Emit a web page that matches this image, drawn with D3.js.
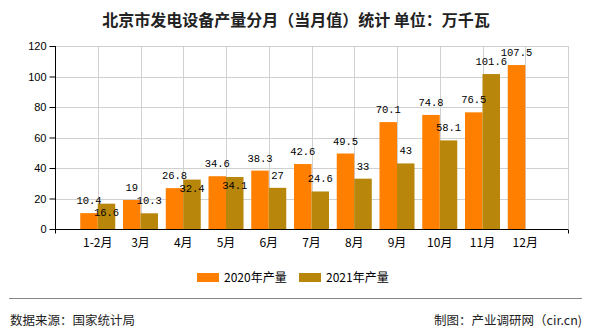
<!DOCTYPE html>
<html>
<head>
<meta charset="utf-8">
<script src="https://cdn.jsdelivr.net/npm/d3@7"></script>
<style>
html,body{margin:0;padding:0;background:#fff;}
svg{display:block;}
</style>
</head>
<body>
<svg id="chart" width="590" height="330"></svg>
<script>
const categories = ["1-2月","3月","4月","5月","6月","7月","8月","9月","10月","11月","12月"];
const seriesNames = ["2020年产量","2021年产量"];
const values2020 = [10.4,19,26.8,34.6,38.3,42.6,49.5,70.1,74.8,76.5,107.5];
const values2021 = [16.6,10.3,32.4,34.1,27,24.6,33,43,58.1,101.6,null];
const yTicks = [0,20,40,60,80,100,120];
const colors = ["#FF8000","#B8860B"];
const titleText = "北京市发电设备产量分月（当月值）统计  单位：万千瓦";
const sourceText = "数据来源：国家统计局";
const creditText = "制图：产业调研网（cir.cn)";

(function () {
const svg = d3.select("#chart");
const pL = 55, pR = 568, pT = 46, pB = 229;

const x = d3.scaleLinear().domain([0, categories.length + 1]).range([pL, pR]);
const y = d3.scaleLinear().domain([0, 120]).range([pB, pT]);
const sub = d3.scaleBand().domain(seriesNames).range([-17.5, 17.5]);

// title
svg.append("text").attr("x", 296).attr("y", 26).attr("text-anchor", "middle")
  .attr("font-family", "'Noto Sans CJK SC', sans-serif").attr("font-size", 16)
  .attr("font-weight", "bold").attr("fill", "#222").text(titleText);

// grid
const grid = svg.append("g");
grid.selectAll("line.h").data(yTicks.filter(t => t > 0)).join("line")
  .attr("x1", pL).attr("x2", pR).attr("y1", d => Math.round(y(d)) + 0.5).attr("y2", d => Math.round(y(d)) + 0.5)
  .attr("stroke", "#d0d0d0");
grid.selectAll("line.v").data(d3.range(1, categories.length + 2)).join("line")
  .attr("x1", d => Math.round(x(d)) + 0.5).attr("x2", d => Math.round(x(d)) + 0.5)
  .attr("y1", pT).attr("y2", pB).attr("stroke", "#d0d0d0");

// bars
const data = categories.map((c, i) => ({c, i, vals: [values2020[i], values2021[i]]}));
const barG = svg.append("g");
seriesNames.forEach((s, si) => {
  barG.selectAll("rect.s" + si).data(data.filter(d => d.vals[si] != null)).join("rect")
    .attr("class", "s" + si)
    .attr("x", d => x(d.i + 1) + sub(s))
    .attr("width", sub.bandwidth())
    .attr("y", d => y(d.vals[si]))
    .attr("height", d => y(0) - y(d.vals[si]))
    .attr("fill", colors[si]);
});

// y axis
const yAxis = d3.axisLeft(y).tickValues(yTicks).tickSize(6).tickPadding(3);
const ya = svg.append("g").attr("transform", `translate(${pL + 0.5},0)`).call(yAxis);
ya.select(".domain").attr("stroke", "#000").attr("d", `M0,${pT}V${pB}`);
ya.selectAll(".tick line").attr("stroke", "#000");
ya.selectAll(".tick text").attr("font-family", "'Liberation Sans', Arial, sans-serif").attr("font-size", 11).attr("fill", "#000");

// x axis
const xa = svg.append("g").attr("transform", `translate(0,${pB + 0.5})`)
  .call(d3.axisBottom(x).tickValues([0, categories.length + 1]).tickSize(4).tickFormat(""));
xa.select(".domain").attr("stroke", "#000").attr("d", `M${pL},0H${pR}`);
xa.selectAll(".tick line").attr("stroke", "#000");
svg.append("g").selectAll("text").data(data).join("text")
  .attr("x", d => x(d.i + 1)).attr("y", 247).attr("text-anchor", "middle")
  .attr("font-family", "'Noto Sans CJK SC', sans-serif").attr("font-size", 12).attr("fill", "#000")
  .text(d => d.c);

// value labels with simple overlap avoidance (within a category)
const labelFont = 10.5, charW = 6.3, lh = 11;
const labels = [];
data.forEach(d => {
  const own = [];
  seriesNames.forEach((s, si) => {
    const v = d.vals[si];
    if (v == null) return;
    const cx = x(d.i + 1) + sub(s) + sub.bandwidth() / 2;
    const txt = String(v);
    const l = {cx, by: y(v) - 9, barTop: y(v), txt, w: txt.length * charW};
    const hit = own.some(p => Math.abs(p.cx - l.cx) < (p.w + l.w) / 2 && Math.abs(p.by - l.by) < lh + 1);
    if (hit) l.by = l.barTop + 12;
    own.push(l);
    labels.push(l);
  });
});
svg.append("g").selectAll("text").data(labels).join("text")
  .attr("x", d => d.cx).attr("y", d => d.by).attr("text-anchor", "middle")
  .attr("font-family", "'Liberation Mono', 'DejaVu Sans Mono', monospace").attr("font-size", labelFont)
  .attr("fill", "#000").text(d => d.txt);

// legend
const lg = svg.append("g");
const legX = [197, 299];
seriesNames.forEach((s, si) => {
  lg.append("rect").attr("x", legX[si]).attr("y", 273).attr("width", 22).attr("height", 9).attr("fill", colors[si]);
  lg.append("text").attr("x", legX[si] + 27).attr("y", 282)
    .attr("font-family", "'Noto Sans CJK SC', sans-serif").attr("font-size", 12).attr("fill", "#000").text(s);
});

// footer
svg.append("line").attr("x1", 9).attr("x2", 582).attr("y1", 298.5).attr("y2", 298.5).attr("stroke", "#888");
svg.append("text").attr("x", 10).attr("y", 325).attr("font-family", "'Noto Sans CJK SC', sans-serif")
  .attr("font-size", 12.5).attr("fill", "#222").text(sourceText);
svg.append("text").attr("x", 582).attr("y", 325).attr("text-anchor", "end").attr("font-family", "'Noto Sans CJK SC', sans-serif")
  .attr("font-size", 12.5).attr("fill", "#222").text(creditText);
})();
</script>
</body>
</html>
